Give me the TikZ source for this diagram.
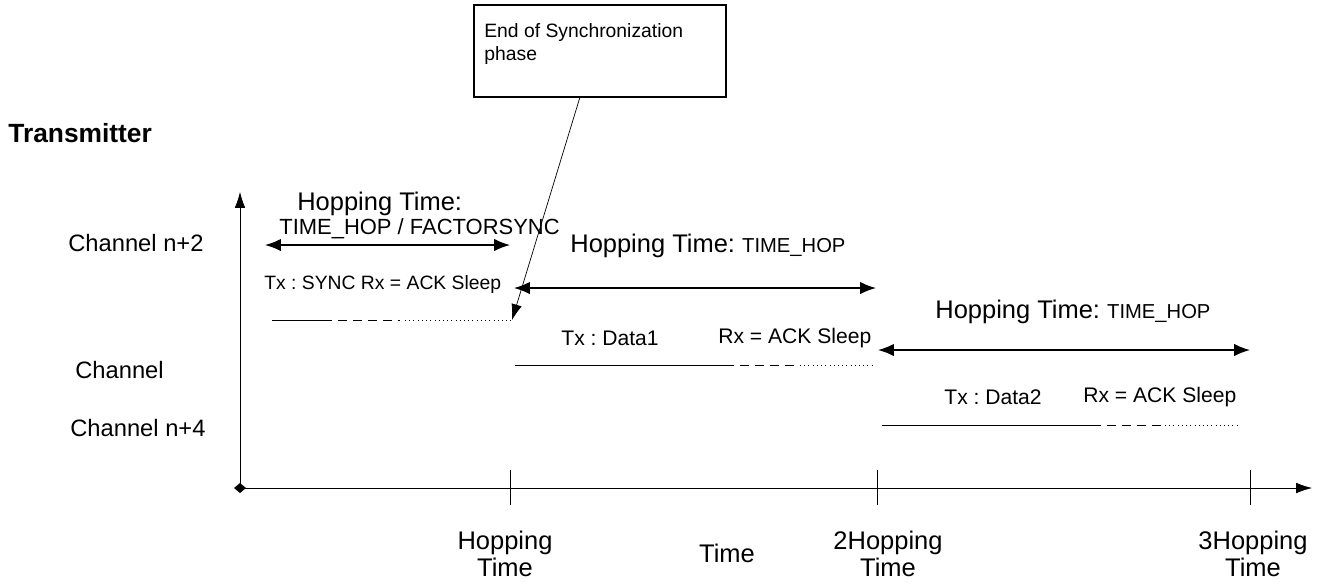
\documentclass[tikz,border=0pt]{standalone}
\usepackage{fontspec}
\setmainfont{Liberation Sans}
\usetikzlibrary{arrows.meta}

\tikzset{
	big/.style={font=\fontsize{13.5}{15}\selectfont, inner sep=0pt},
	hoptext/.style={font=\fontsize{14.5}{17}\selectfont, inner sep=0pt},
	axtext/.style={font=\fontsize{14.5}{15.3}\selectfont, inner sep=0pt, align=center},
	mid/.style={font=\fontsize{11}{13}\selectfont, inner sep=0pt},
	slottext/.style={font=\fontsize{12}{14}\selectfont, inner sep=0pt},
	small/.style={font=\fontsize{11}{13}\selectfont, inner sep=0pt},
	hop/.style={{Latex[length=9pt,width=7pt]}-{Latex[length=9pt,width=7pt]}, thick},
	tick/.style={thin},
	dashline/.style={dash pattern=on 5pt off 3.5pt},
}

\begin{document}
\frenchspacing
\begin{tikzpicture}[x=0.02cm,y=-0.02cm]
	\useasboundingbox (0,0) rectangle (1325,583);

	% axes
	\coordinate (o) at (240,488);
	\coordinate (ytop) at (240,192);
	\coordinate (xend) at (1312,488);
	\draw [-{Latex[length=9pt,width=6pt]}] (o) -- (ytop);
	\draw [-{Latex[length=9pt,width=6pt]}] (o) -- (xend);
	\fill (o) +(-6,0) -- +(0,-5) -- +(6,0) -- +(0,5) -- cycle;

	% ticks
	\foreach \t/\x in {t1/510, t2/877, t3/1250} {
		\coordinate (\t a) at (\x,470);
		\coordinate (\t b) at (\x,505);
		\draw [tick] (\t a) -- (\t b);
	}

	\node[axtext, anchor=north] (lt1) at (505,531) {Hopping\\Time};
	\node[axtext, anchor=base] (ltime) at (727,562) {Time};
	\node[axtext, anchor=north] (lt2) at (888,531) {2Hopping\\Time};
	\node[axtext, anchor=north] (lt3) at (1253,531) {3Hopping\\Time};

	% channels
	\node[font=\bfseries\fontsize{15}{17}\selectfont, inner sep=0pt, anchor=base west] (tr) at (8,142) {Transmitter};
	\node[big, anchor=west] (ch1) at (68,243) {Channel n+2};
	\node[big, anchor=west] (ch2) at (75,370) {Channel};
	\node[big, anchor=west] (ch3) at (70,428) {Channel n+4};

	% hopping time arrows
	\coordinate (h1a) at (265,245);
	\coordinate (h1b) at (510,245);
	\coordinate (h2a) at (514,288);
	\coordinate (h2b) at (876,288);
	\coordinate (h3a) at (878,350);
	\coordinate (h3b) at (1250,350);
	\draw [hop] (h1a) -- (h1b);
	\draw [hop] (h2a) -- (h2b);
	\draw [hop] (h3a) -- (h3b);

	\node[hoptext, anchor=west] (ht1) at (297,204) {Hopping Time:};
	\node[font=\fontsize{12.5}{14}\selectfont, inner sep=0pt, anchor=west] (ht1b) at (279,229) {TIME\_HOP / FACTORSYNC};
	\node[hoptext, anchor=west] (ht2) at (570,246) {Hopping Time: {\fontsize{11.5}{13}\selectfont TIME\_HOP}};
	\node[hoptext, anchor=west] (ht3) at (935,312) {Hopping Time: {\fontsize{11.5}{13}\selectfont TIME\_HOP}};

	% slot 1
	\node[mid, anchor=west] (s1) at (264,284) {Tx : SYNC Rx = ACK Sleep};
	\coordinate (a1) at (272,320);
	\coordinate (b1) at (323,320);
	\coordinate (c1) at (400,320);
	\coordinate (d1) at (405,320);
	\coordinate (e1) at (512,320);
	\draw (a1) -- (b1);
	\draw [dashline] (b1) -- (c1);
	\draw [dotted] (d1) -- (e1);

	% slot 2
	\node[slottext] (tx1) at (610,338) {Tx : Data1};
	\node[slottext, anchor=west] (rx1) at (718,338) {Rx = ACK Sleep};
	\coordinate (a2) at (515,365);
	\coordinate (b2) at (725,365);
	\coordinate (c2) at (797,365);
	\coordinate (d2) at (800,365);
	\coordinate (e2) at (873,365);
	\draw (a2) -- (b2);
	\draw [dashline] (b2) -- (c2);
	\draw [dotted] (d2) -- (e2);

	% slot 3
	\node[slottext] (tx2) at (993,397) {Tx : Data2};
	\node[slottext, anchor=west] (rx2) at (1083,397) {Rx = ACK Sleep};
	\coordinate (a3) at (882,425);
	\coordinate (b3) at (1092,425);
	\coordinate (c3) at (1162,425);
	\coordinate (d3) at (1165,425);
	\coordinate (e3) at (1240,425);
	\draw (a3) -- (b3);
	\draw [dashline] (b3) -- (c3);
	\draw [dotted] (d3) -- (e3);

	% end of sync
	\node[draw, thick, minimum width=252*0.02cm, minimum height=92*0.02cm, inner sep=0pt] (box) at (600,51) {};
	\node[small, anchor=north west, align=left] (boxtext) at (484,23) {End of Synchronization\\phase};
	\coordinate (bx) at (580,97);
	\draw [-{Latex[length=9pt,width=6pt]}] (bx) -- (e1);
\end{tikzpicture}
\end{document}
